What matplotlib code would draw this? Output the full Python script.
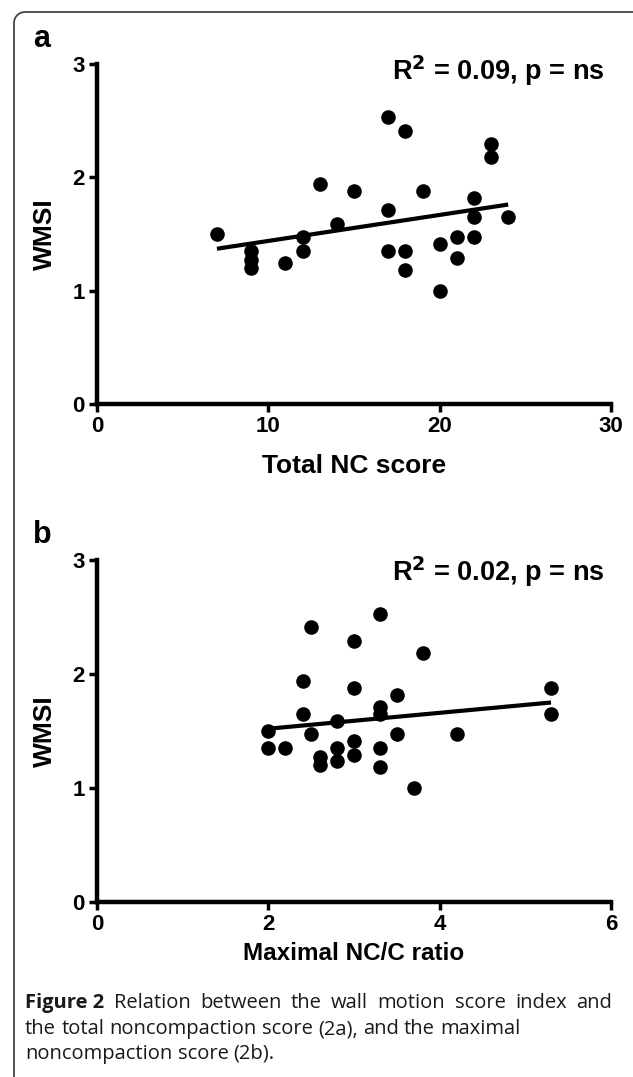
import numpy as np
import matplotlib as mpl
mpl.use('Agg')
import matplotlib.pyplot as plt
from matplotlib.lines import Line2D

# panel a: total noncompaction score vs WMSI
nc_score = [7, 9, 9, 9, 11, 12, 12, 13, 14, 15, 17, 17, 17, 18, 18, 18, 19,
            20, 20, 21, 21, 22, 22, 22, 23, 23, 24]
wmsi_a = [1.50, 1.35, 1.27, 1.20, 1.24, 1.47, 1.35, 1.94, 1.59, 1.88, 2.53,
          1.71, 1.35, 2.41, 1.35, 1.18, 1.88, 1.41, 1.00, 1.47, 1.29, 1.82,
          1.65, 1.47, 2.29, 2.18, 1.65]
fit_a = [1.37, 1.76]   # regression line at min / max x

# panel b: maximal NC/C ratio vs WMSI
nc_ratio = [2.0, 2.0, 2.2, 2.4, 2.4, 2.5, 2.5, 2.6, 2.6, 2.8, 2.8, 2.8, 3.0,
            3.0, 3.0, 3.0, 3.3, 3.3, 3.3, 3.3, 3.3, 3.5, 3.5, 3.7, 3.8, 4.2,
            5.3, 5.3]
wmsi_b = [1.50, 1.35, 1.35, 1.94, 1.65, 2.41, 1.47, 1.27, 1.20, 1.59, 1.35,
          1.24, 2.29, 1.88, 1.41, 1.29, 2.53, 1.71, 1.65, 1.35, 1.18, 1.82,
          1.47, 1.00, 2.18, 1.47, 1.88, 1.65]
fit_b = [1.52, 1.75]

xticks_a = [0, 10, 20, 30]
xticks_b = [0, 2, 4, 6]
yticks = [0, 1, 2, 3]

W, H = 633, 1077
fig = plt.figure(figsize=(W / 100, H / 100), dpi=100)
fig.patch.set_facecolor('white')

bold = dict(family='Liberation Sans', fontweight='bold')


def px(x0, y0, x1, y1):
    # pixel box (from top-left) -> axes rect
    return [x0 / W, 1 - y1 / H, (x1 - x0) / W, (y1 - y0) / H]


def panel(rect, xs, ys, fit, xticks, xlabel, stat, xlab_y, xlab_size):
    ax = fig.add_axes(rect)
    ax.scatter(xs, ys, s=110, color='black', zorder=3, clip_on=False,
               linewidths=0)
    ax.plot([min(xs), max(xs)], fit, color='black', lw=3,
            solid_capstyle='butt')
    ax.set_xlim(xticks[0], xticks[-1])
    ax.set_ylim(0, 3)
    ax.set_xticks(xticks)
    ax.set_yticks(yticks)
    for s in ['top', 'right']:
        ax.spines[s].set_visible(False)
    for s in ['left', 'bottom']:
        ax.spines[s].set_linewidth(3.2)
    ax.tick_params(direction='out', length=6, width=2.5, pad=3,
                   labelsize=16)
    for lab in ax.get_xticklabels() + ax.get_yticklabels():
        lab.set_fontweight('bold')
        lab.set_family('Liberation Sans')
    ax.set_ylabel('WMSI', fontsize=19, va='center', **bold)
    ax.yaxis.set_label_coords(-0.101, 0.5)
    ax.set_xlabel(xlabel, fontsize=xlab_size, va='center', **bold)
    ax.xaxis.set_label_coords(0.5, xlab_y)
    ax.text(0.988, stat[1], stat[0], transform=ax.transAxes, ha='right',
            va='center', fontsize=19.5, **bold)
    return ax


panel(px(97, 64, 611, 404), nc_score, wmsi_a, fit_a, xticks_a,
      'Total NC score', (r'R$^\mathbf{2}$ = 0.09, p = ns', 0.98), -0.182, 19)
panel(px(97, 560, 611, 902), nc_ratio, wmsi_b, fit_b, xticks_b,
      'Maximal NC/C ratio', (r'R$^\mathbf{2}$ = 0.02, p = ns', 0.965), -0.15,
      17.5)

fig.text(33 / W, 1 - 47 / H, 'a', fontsize=22, ha='left', va='baseline', **bold)
fig.text(33 / W, 1 - 543 / H, 'b', fontsize=22, ha='left', va='baseline', **bold)

# caption, first line justified to the frame width
cap_lines = [
    'Figure 2 Relation between the wall motion score index and',
    'the total noncompaction score (2a), and the maximal',
    'noncompaction score (2b).',
]
ys_cap = [1003, 1029, 1054]
cap_size = 14.5
fig.canvas.draw()
rend = fig.canvas.get_renderer()
space = fig.text(0, 0, 'a a', fontsize=cap_size, family='Open Sans')
sp = space.get_window_extent(rend).width
space.set_text('aa')
sp -= space.get_window_extent(rend).width
space.remove()
for i, (line, yc) in enumerate(zip(cap_lines, ys_cap)):
    words = line.split(' ')
    if i == 0:
        words = ['Figure\u00a02'] + words[2:]
    arts = []
    for w in words:
        wt = 'bold' if w.startswith('Figure') else 'normal'
        arts.append(fig.text(0, 1 - yc / H, w, fontsize=cap_size,
                             fontweight=wt, family='Open Sans', va='center',
                             color='#1a1a1a'))
    widths = [a.get_window_extent(rend).width for a in arts]
    if i == 0:
        gap = (612 - 25 - sum(widths)) / (len(words) - 1)
    else:
        gap = sp
    x = 25
    for a, w in zip(arts, widths):
        a.set_x(x / W)
        x += w + gap

# page frame, rounded top-left corner
r = 11
ang = np.linspace(np.pi, np.pi / 2, 20)
fx = np.concatenate([[14], 14 + r + r * np.cos(ang), [W + 5]])
fy = np.concatenate([[H + 5], 12 + r - r * np.sin(ang), [12]])
fig.add_artist(Line2D(fx / W, 1 - fy / H, transform=fig.transFigure,
                      color='#444444', lw=1.3))

fig.savefig('out.png', dpi=100)
